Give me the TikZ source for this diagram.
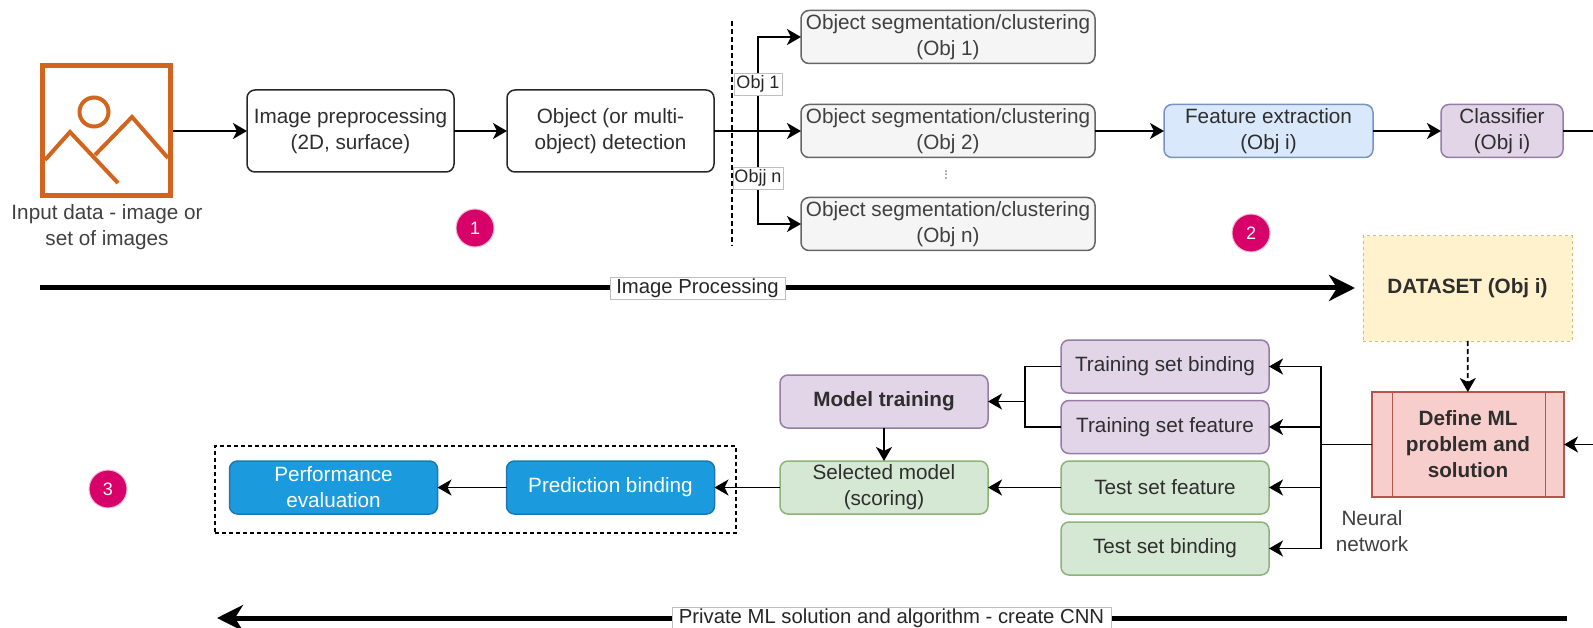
\documentclass[tikz,border=0pt]{standalone}
\usepackage{fontspec}
\setmainfont{Liberation Sans}
\usetikzlibrary{positioning,calc,arrows,arrows.meta}

\definecolor{iconc}{HTML}{D2641E}
\definecolor{txtgray}{HTML}{404040}

\begin{document}
\begin{tikzpicture}
	\useasboundingbox (0pt,0pt) rectangle (1593pt,-628pt);
	\begin{scope}[x=1pt, y=-1pt]
		\tikzstyle{every node}=[align=center, inner sep=0pt, outer sep=0pt, text=black!82, font=\fontsize{20.7}{26}\selectfont]
		\tikzstyle{box}=[draw, rounded corners=8pt, line width=1.5pt]
		\tikzstyle{stepA}=[box, minimum width=207pt, minimum height=82pt, draw=black!85]
		\tikzstyle{seg}=[box, minimum width=294pt, minimum height=53pt, fill=black!4, draw=black!60, text=txtgray]
		\tikzstyle{pur}=[box, minimum width=208pt, minimum height=53pt, fill={rgb,255:red,225;green,213;blue,231}, draw={rgb,255:red,150;green,125;blue,166}]
		\tikzstyle{grn}=[box, minimum width=208pt, minimum height=53pt, fill={rgb,255:red,213;green,232;blue,212}, draw={rgb,255:red,140;green,179;blue,122}]
		\tikzstyle{blu}=[box, minimum width=208pt, minimum height=53pt, fill={rgb,255:red,27;green,155;blue,222}, draw={rgb,255:red,30;green,120;blue,175}, text=white]
		\tikzstyle{badge}=[circle, minimum size=38pt, fill={rgb,255:red,216;green,0;blue,105}, draw={rgb,255:red,240;green,190;blue,215}, line width=1pt, text=white, font=\fontsize{18}{20}\selectfont]
		\tikzstyle{tag}=[fill=white, draw=black!25, line width=0.8pt, text=black!85, font=\fontsize{20.3}{24}\selectfont]
		\tikzstyle{conn}=[->, >={Stealth[length=14pt,width=16pt,inset=4pt]}, line width=1.8pt]
		\tikzstyle{bigarrow}=[->, >={Stealth[length=26pt,width=26pt,inset=8pt]}, line width=5pt]

		\node (grp) at (475.5, 489.5) [draw, dash pattern=on 4pt off 3pt, line width=1.4pt, minimum width=521pt, minimum height=87pt] {};

		\node (img)  at (106.5, 131) [draw=iconc, line width=5pt, minimum width=128pt, minimum height=130pt, outer sep=2.5pt] {};
		\node (imgt) at (107, 227) [text=txtgray] {Input data - image or\\set of images};

		\node (pre) at (350.5, 131) [stepA] {Image preprocessing\\(2D, surface)};
		\node (det) at (610.5, 131) [stepA] {Object (or multi-\\object) detection};

		\node (segA) at (948, 37)  [seg] {Object segmentation/clustering\\(Obj 1)};
		\node (segB) at (948, 131) [seg] {Object segmentation/clustering\\(Obj 2)};
		\node (segN) at (948, 224) [seg] {Object segmentation/clustering\\(Obj n)};
		\node (dots) at (946, 175) [text=black!60, font=\fontsize{14}{14}\selectfont] {\rotatebox{90}{...}};

		\node (feat) at (1268.5, 131) [box, minimum width=209pt, minimum height=53pt, fill={rgb,255:red,218;green,232;blue,252}, draw={rgb,255:red,118;green,148;blue,191}] {Feature extraction\\(Obj i)};
		\node (clf)  at (1502, 131)   [box, minimum width=122pt, minimum height=53pt, fill={rgb,255:red,225;green,213;blue,231}, draw={rgb,255:red,150;green,125;blue,166}] {Classifier\\(Obj i)};

		\node (data) at (1467.5, 288.5) [draw={rgb,255:red,214;green,190;blue,110}, dash pattern=on 3pt off 3pt, line width=1pt, fill={rgb,255:red,255;green,242;blue,204}, minimum width=209pt, minimum height=105pt, font=\fontsize{20.7}{26}\selectfont\bfseries] {DATASET (Obj i)};
		\node (def)  at (1468, 444.5)   [draw={rgb,255:red,184;green,84;blue,80}, line width=1.2pt, fill={rgb,255:red,248;green,206;blue,204}, minimum width=192pt, minimum height=105pt, font=\fontsize{20.7}{26}\selectfont\bfseries] {Define ML\\problem and\\solution};

		\node (tsb) at (1165, 366.5) [pur] {Training set binding};
		\node (tsf) at (1165, 427)   [pur] {Training set feature};
		\node (tef) at (1165, 487.5) [grn] {Test set feature};
		\node (teb) at (1165, 548.5) [grn] {Test set binding};

		\node (mod) at (884, 401.5) [pur, font=\fontsize{20.7}{26}\selectfont\bfseries] {Model training};
		\node (sel) at (884, 487.5) [grn] {Selected model\\(scoring)};

		\node (pred) at (610.5, 487.5) [blu] {Prediction binding};
		\node (perf) at (333.5, 487.5) [blu] {Performance\\evaluation};

		\node (nn) at (1372, 531) [text=txtgray] {Neural\\network};

		\node (bA) at (475, 228)  [badge] {1};
		\node (bB) at (1251, 233) [badge] {2};
		\node (bC) at (108, 489)  [badge] {3};

		\coordinate (split) at (758, 131);
		\coordinate (dashtop) at (732, 21);
		\coordinate (dashbot) at (732, 246);
		\coordinate (clfout) at (1593, 131);
		\coordinate (defin) at (1593, 444.5);
		\coordinate (bus) at (1321, 444.5);
		\coordinate (merge) at (1025, 401.5);
		\coordinate (ipstart) at (40, 288);
		\coordinate (ipend) at (1355, 288);
		\coordinate (mlstart) at (1567, 618);
		\coordinate (mlend) at (217, 618);

		\draw [iconc, line width=4pt] (94, 112) circle (14.5pt);
		\draw [iconc, line width=4pt] (45, 160) -- (70, 132) -- (118, 183);
		\draw [iconc, line width=4pt] (95, 155) -- (132, 117) -- (168, 158);

		\draw [dash pattern=on 5pt off 3pt, line width=1.2pt] (dashtop) -- (dashbot);

		\draw [conn] (img) -- (pre);
		\draw [conn] (pre) -- (det);
		\draw [conn] (det) -- (segB);
		\draw [conn] (split) |- (segA);
		\draw [conn] (split) |- (segN);
		\draw [conn] (segB) -- (feat);
		\draw [conn] (feat) -- (clf);
		\draw [line width=1.8pt] (clf) -- (clfout);

		\draw [conn, dash pattern=on 5pt off 3pt] (data) -- (def);
		\draw [conn] (defin) -- (def);

		\draw [line width=1.8pt] (def.west |- bus) -- (bus);
		\draw [conn] (bus) |- (tsb);
		\draw [conn] (bus) |- (tsf);
		\draw [conn] (bus) |- (tef);
		\draw [conn] (bus) |- (teb);

		\draw [line width=1.8pt] (tsb) -| (merge);
		\draw [line width=1.8pt] (tsf) -| (merge);
		\draw [conn] (merge) -- (mod);
		\draw [conn] (mod) -- (sel);
		\draw [conn] (tef) -- (sel);
		\draw [conn] (sel) -- (pred);
		\draw [conn] (pred) -- (perf);

		\draw [bigarrow] (ipstart) -- (ipend);
		\draw [bigarrow] (mlstart) -- (mlend);

		\draw [draw={rgb,255:red,184;green,84;blue,80}, line width=1pt] ($(def.north west)+(20,0)$) -- ($(def.south west)+(20,0)$);
		\draw [draw={rgb,255:red,184;green,84;blue,80}, line width=1pt] ($(def.north east)+(-19,0)$) -- ($(def.south east)+(-19,0)$);

		\node (objA) at (758, 84)  [tag, minimum width=48pt, minimum height=22pt, font=\fontsize{18}{20}\selectfont] {Obj 1};
		\node (objN) at (758, 178) [tag, minimum width=50pt, minimum height=22pt, font=\fontsize{18}{20}\selectfont] {Objj n};
		\node (ipl)  at (697.5, 288) [tag, minimum width=175pt, minimum height=22pt] {Image Processing};
		\node (mll)  at (891.5, 618) [tag, minimum width=439pt, minimum height=22pt] {Private ML solution and algorithm - create CNN};
	\end{scope}
\end{tikzpicture}
\end{document}
